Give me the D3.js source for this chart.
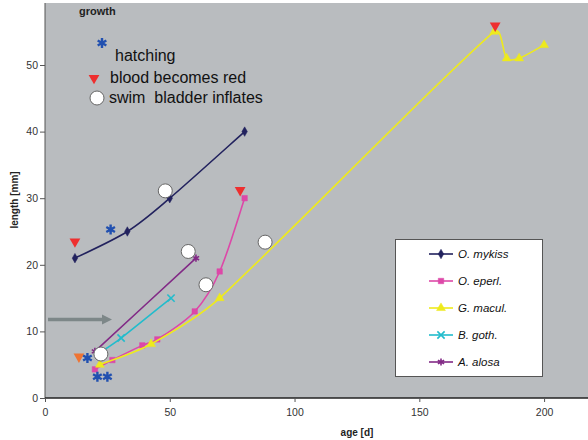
<!DOCTYPE html>
<html>
<head>
<meta charset="utf-8">
<script src="https://cdn.jsdelivr.net/npm/d3@7"></script>
<style>
  body { margin: 0; background: #fff; }
  text { font-family: "Liberation Sans", Arial, sans-serif; }
</style>
</head>
<body>
<div class="vis-growth"></div>
<script>
// growth curves, age [d] vs length [mm]
const mykiss = [[12, 21], [33, 25], [50, 30], [80, 40]];
const eperl = [[20, 4.3], [27, 5.7], [39, 7.9], [45, 8.8], [60, 13], [70, 19], [80, 30]];
const macul = [[22, 5], [42.5, 8.1], [70, 15], [180, 55], [185, 51], [190, 51], [200, 53]];
const goth = [[22, 6.8], [30.5, 9], [50.5, 15]];
const alosa = [[20, 7], [60.5, 21]];

// event markers
const hatching = [[26.3, 25.3], [17, 6], [21, 3.2], [25, 3.2]];
const bloodRed = [[12, 23.5], [78.2, 31.2], [180.4, 55.9]];
const bloodRedOrange = [[13.6, 6.2]];
const bladder = [[48.2, 31.1], [57.4, 22], [64.5, 17], [88.2, 23.4], [22.4, 6.6]];
const arrow = [[1.2, 11.8], [23.5, 11.8]];

const xTicks = [0, 50, 100, 150, 200];
const yTicks = [0, 10, 20, 30, 40, 50];

const series = [
  { name: 'O. mykiss', data: mykiss, color: '#22225e', sym: d3.symbolDiamond, size: 26, fill: true },
  { name: 'O. eperl.', data: eperl, color: '#dd48a8', sym: d3.symbolSquare, size: 30, fill: true },
  { name: 'G. macul.', data: macul, color: '#eeea1c', sym: d3.symbolTriangle, size: 34, fill: true },
  { name: 'B. goth.', data: goth, color: '#22bccc', sym: d3.symbolTimes, size: 36, fill: false },
  { name: 'A. alosa', data: alosa, color: '#822a86', sym: d3.symbolAsterisk, size: 36, fill: false }
];

const W = 588, H = 440;
const svg = d3.select('.vis-growth').append('svg').attr('width', W).attr('height', H);

const x = d3.scaleLinear().domain([0, 220]).range([45, 594]);
const y = d3.scaleLinear().domain([0, 60]).range([398, -1.6]);

svg.append('rect')
  .attr('x', x(0)).attr('y', 3)
  .attr('width', W - x(0)).attr('height', y(0) - 3)
  .attr('fill', '#b9bcbf');

// axes
const yAxis = svg.append('g').attr('transform', 'translate(' + x(0) + ',0)')
  .call(d3.axisLeft(y).tickValues(yTicks).tickSize(5).tickPadding(2).tickSizeOuter(0));
yAxis.select('.domain').attr('d', 'M0,3V' + y(0)).attr('stroke', '#555');
yAxis.selectAll('line').attr('stroke', '#555');
yAxis.selectAll('text').style('font-size', '10.5px').attr('fill', '#333');

const xAxis = svg.append('g').attr('transform', 'translate(0,' + y(0) + ')')
  .call(d3.axisBottom(x).tickValues(xTicks).tickSize(4).tickPadding(7).tickSizeOuter(0));
xAxis.select('.domain').attr('d', 'M' + x(0) + ',0H' + W).attr('stroke', '#222').attr('stroke-width', 1.6);
xAxis.selectAll('line').attr('stroke', '#555');
xAxis.selectAll('text').style('font-size', '10.5px').attr('fill', '#333');

svg.append('text').attr('x', 357).attr('y', 436).attr('text-anchor', 'middle')
  .style('font-size', '10px').style('font-weight', 'bold').attr('fill', '#222').text('age [d]');
svg.append('text').attr('transform', 'translate(18,' + 200 + ') rotate(-90)').attr('text-anchor', 'middle')
  .style('font-size', '10px').style('font-weight', 'bold').attr('fill', '#222').text('length [mm]');

// arrow
svg.append('defs').append('marker')
  .attr('id', 'head').attr('viewBox', '0 0 10 10').attr('refX', 2).attr('refY', 5)
  .attr('markerWidth', 3).attr('markerHeight', 3).attr('orient', 'auto')
  .append('path').attr('d', 'M0,0L10,5L0,10Z').attr('fill', '#7d8788');
svg.append('path')
  .attr('d', d3.line().x(d => x(d[0])).y(d => y(d[1]))(arrow))
  .attr('stroke', '#7d8788').attr('stroke-width', 3.5).attr('fill', 'none')
  .attr('marker-end', 'url(#head)');

// excel-like smoothing: catmull-rom tangents, control arms clamped to segment length
const smooth = (data) => {
  const p = data.map(d => [x(d[0]), y(d[1])]);
  const n = p.length;
  const path = d3.path();
  path.moveTo(p[0][0], p[0][1]);
  const tan = (i) => {
    const a = p[Math.max(i - 1, 0)], b = p[Math.min(i + 1, n - 1)];
    return [(b[0] - a[0]) / 6, (b[1] - a[1]) / 6];
  };
  const clamp = (t, L) => {
    const len = Math.hypot(t[0], t[1]);
    const k = len > L * 0.35 ? L * 0.35 / len : 1;
    return [t[0] * k, t[1] * k];
  };
  for (let i = 0; i < n - 1; i++) {
    const L = Math.hypot(p[i + 1][0] - p[i][0], p[i + 1][1] - p[i][1]);
    const t1 = clamp(tan(i), L), t2 = clamp(tan(i + 1), L);
    path.bezierCurveTo(p[i][0] + t1[0], p[i][1] + t1[1],
      p[i + 1][0] - t2[0], p[i + 1][1] - t2[1], p[i + 1][0], p[i + 1][1]);
  }
  return path.toString();
};

series.forEach(s => {
  svg.append('path').attr('d', smooth(s.data))
    .attr('fill', 'none').attr('stroke', s.color).attr('stroke-width', 1.6);
  svg.selectAll(null).data(s.data).enter().append('path')
    .attr('transform', d => 'translate(' + x(d[0]) + ',' + y(d[1]) + ')')
    .attr('d', d3.symbol(s.sym, s.size))
    .attr('fill', s.fill ? s.color : 'none')
    .attr('stroke', s.color).attr('stroke-width', s.fill ? 0.5 : 1.6);
});

// event markers
const tri = d3.symbol(d3.symbolTriangle, 50);
svg.selectAll(null).data(bloodRed).enter().append('path')
  .attr('transform', d => 'translate(' + x(d[0]) + ',' + y(d[1]) + ') rotate(180)')
  .attr('d', tri).attr('fill', '#ee2f2f');
svg.selectAll(null).data(bloodRedOrange).enter().append('path')
  .attr('transform', d => 'translate(' + x(d[0]) + ',' + y(d[1]) + ') rotate(180)')
  .attr('d', tri).attr('fill', '#ee7433');

const star = d3.symbol(d3.symbolAsterisk, 70);
svg.selectAll(null).data(hatching).enter().append('path')
  .attr('transform', d => 'translate(' + x(d[0]) + ',' + y(d[1]) + ')')
  .attr('d', star).attr('fill', 'none').attr('stroke', '#2150b0').attr('stroke-width', 2.4);

svg.selectAll(null).data(bladder).enter().append('circle')
  .attr('cx', d => x(d[0])).attr('cy', d => y(d[1])).attr('r', 7)
  .attr('fill', '#fff').attr('stroke', '#666').attr('stroke-width', 1);

// top-left key
svg.append('text').attr('x', 79).attr('y', 15).style('font-size', '11px').style('font-weight', 'bold')
  .attr('fill', '#222').text('growth');
const key = svg.append('g');
key.append('path').attr('transform', 'translate(102,43)').attr('d', star)
  .attr('fill', 'none').attr('stroke', '#2150b0').attr('stroke-width', 2.4);
key.append('text').attr('x', 115).attr('y', 61).style('font-size', '16px').attr('fill', '#111').text('hatching');
key.append('path').attr('transform', 'translate(94,78) rotate(180)').attr('d', tri).attr('fill', '#ee2f2f');
key.append('text').attr('x', 110).attr('y', 83).style('font-size', '16px').attr('fill', '#111').text('blood becomes red');
key.append('circle').attr('cx', 97).attr('cy', 98).attr('r', 7)
  .attr('fill', '#fff').attr('stroke', '#666');
key.append('text').attr('x', 109).attr('y', 103).style('font-size', '16px').attr('fill', '#111')
  .style('white-space', 'pre').text('swim  bladder inflates');

// series legend
svg.append('rect').attr('x', 395.5).attr('y', 239.5).attr('width', 147).attr('height', 137)
  .attr('fill', '#fff').attr('stroke', '#555').attr('stroke-width', 1);
const lg = svg.selectAll('.legend').data(series).enter().append('g')
  .attr('class', 'legend')
  .attr('transform', (d, i) => 'translate(0,' + (254 + i * 27) + ')');
lg.append('line').attr('x1', 429).attr('x2', 453)
  .attr('stroke', d => d.color).attr('stroke-width', 1.6);
lg.append('path').attr('transform', 'translate(441,0)')
  .attr('d', d => d3.symbol(d.sym, d.size)())
  .attr('fill', d => d.fill ? d.color : 'none')
  .attr('stroke', d => d.color).attr('stroke-width', d => d.fill ? 0.5 : 1.6);
lg.append('text').attr('x', 458).attr('y', 4)
  .style('font-size', '11.5px').style('font-style', 'italic').attr('fill', '#111')
  .text(d => d.name);
</script>
</body>
</html>
